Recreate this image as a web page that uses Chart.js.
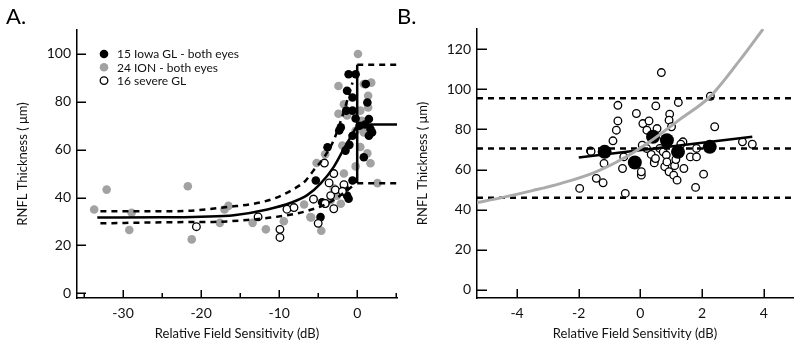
<!DOCTYPE html>
<html><head><meta charset="utf-8">
<script src="https://cdn.jsdelivr.net/npm/chart.js@4.4.1/dist/chart.umd.min.js"></script>
<style>
html,body{margin:0;padding:0;background:#fff;}
#wrap{position:relative;width:800px;height:348px;overflow:hidden;}
canvas{position:absolute;top:0;}
#ca{left:0}
#cb{left:400px}
.lab{position:absolute;font-family:Lato,"Open Sans",sans-serif;font-size:22px;line-height:22px;color:#000;top:5px;}
</style></head><body>
<div id="wrap">
<canvas id="ca" width="400" height="348"></canvas>
<canvas id="cb" width="400" height="348"></canvas>
<div class="lab" style="left:6px">A.</div>
<div class="lab" style="left:397px">B.</div>
</div>
<script>
// ---------- Panel A data ----------
const legendLabels = ['15 Iowa GL - both eyes', '24 ION - both eyes', '16 severe GL'];
const iowaGL = [[-4.7,31.8],[-4.5,38.0],[-4.1,37.4],[-5.3,47.1],[-3.8,61.0],[-2.1,69.3],[-1.5,59.6],[-0.6,65.8],[0.85,56.8],[-0.6,47.1],[-1.3,40.8],[-1.1,39.5],[-1.1,91.5],[-0.2,91.5],[-1.3,84.6],[-0.6,81.8],[-0.6,76.3],[1.5,72.8],[1.7,68.6],[1.9,67.2],[1.5,65.8],[1.1,87.4],[1.3,79.7],[-1.4,76.3],[-0.2,73.0],[-2.3,68.0],[-1.0,62.0],[-1.6,44.0],[0.3,70.0],[1.0,70.5]];
const ionEyes = [[-33.7,35.0],[-32.1,43.3],[-28.9,33.6],[-29.2,26.4],[-21.7,44.7],[-21.2,22.5],[-16.5,36.5],[-17.0,35.0],[-17.6,29.4],[-13.4,29.4],[-11.7,26.7],[-9.4,30.1],[-6.8,37.1],[-5.9,31.7],[-4.6,26.1],[-5.2,54.4],[-4.1,58.1],[-5.6,39.5],[-3.4,38.9],[-3.0,43.8],[-2.1,37.4],[-2.6,40.8],[-1.7,50.0],[-1.9,61.7],[-2.4,75.0],[-2.4,86.6],[-1.7,79.0],[-1.3,74.3],[0.1,100.0],[1.8,88.0],[1.4,82.5],[1.4,77.6],[0.4,76.3],[0.6,72.1],[0.85,67.2],[-0.2,67.9],[0.4,61.1],[1.3,58.5],[1.7,54.3],[-0.2,53.0],[2.6,46.0],[-6.0,31.8],[0.85,87.4],[1.2,69.0]];
const severeGL = [[-20.6,27.8],[-12.7,31.9],[-9.9,26.7],[-9.9,23.3],[-9.0,35.1],[-8.1,35.8],[-5.6,39.3],[-4.2,54.4],[-4.1,37.5],[-5.0,29.2],[-3.6,46.1],[-3.0,50.0],[-3.4,40.8],[-2.8,43.2],[-3.0,35.3],[-1.7,45.4],[-1.9,42.6]];
const fitA = [[-33.3,31.6],[-25,31.7],[-20,32.0],[-15.8,32.6],[-11.5,35.0],[-8.5,37.8],[-6.4,41.0],[-4.7,45.8],[-3.0,52.8],[-1.7,60.4],[-0.1,69.5]];
const upperA = [[-32.9,34.3],[-23,34.3],[-15.8,36.3],[-13.4,37.3],[-10.7,39.5],[-8.1,43.6],[-6.6,47.1],[-5.6,51.3],[-4.2,57.0],[-3.0,64.0],[-1.8,75.0],[-0.6,88.0]];
const lowerA = [[-32.9,29.2],[-23,29.7],[-18.4,29.8],[-14.1,30.6],[-11.1,31.6],[-8.1,33.1],[-6.4,34.4],[-4.5,36.5],[-3.0,39.0],[-1.5,42.5],[-0.3,45.5]];
const normMean = 70.5, normUpper = 95.5, normLower = 46;
const normXA = [0, 5.1];
const aXTicks = [-30, -20, -10, 0];
const aXMinor = [-35, -25, -15, -5, 5];
const aYTicks = [0, 20, 40, 60, 80, 100];

// ---------- Panel B data ----------
const normalEyes = [[-1.97,50.6],[-1.62,69.3],[-1.43,55.6],[-1.21,53.4],[-1.18,63.0],[-0.73,92.0],[-0.73,84.2],[-0.78,79.6],[-0.89,74.3],[-0.58,60.5],[-0.49,48.1],[-0.54,66.3],[-0.13,87.9],[0.06,72.1],[0.03,57.2],[0.03,58.9],[0.08,82.9],[0.28,84.2],[0.21,79.6],[0.50,91.7],[0.54,80.4],[0.68,108.3],[0.46,64.7],[0.45,63.3],[0.63,70.5],[0.74,68.8],[0.84,67.2],[0.79,61.4],[0.86,63.8],[0.93,58.9],[0.95,87.6],[0.93,84.6],[1.01,81.3],[1.11,61.9],[1.08,57.2],[1.19,54.7],[1.23,93.4],[1.38,73.8],[1.31,72.6],[1.41,60.5],[1.62,66.3],[1.82,66.3],[1.82,70.5],[1.79,51.1],[2.05,57.7],[2.27,96.5],[2.41,81.3],[3.31,73.8],[3.63,72.6],[0.35,67.5],[0.49,65.5],[1.15,65.0],[0.2,70.5],[-1.6,69.0]];
const groupMeans = [[-1.16,68.8],[-0.18,63.5],[0.41,76.3],[0.86,74.6],[1.22,68.8],[2.25,71.3]];
const regressB = [[-2.0,66.0],[3.63,76.3]];
const grayCurveB = [[-5.3,43.5],[-4.5,46.0],[-3.5,49.5],[-2.6,53.0],[-1.5,58.5],[-0.5,66.0],[0.3,73.8],[1.28,85.0],[2.25,96.2],[3.22,114.4],[3.98,130.0]];
const normXB = [-5.3, 4.95];
const bXTicks = [-4, -2, 0, 2, 4];
const bYTicks = [0, 20, 40, 60, 80, 100, 120];

// ---------- helpers ----------
const FONT = 'Lato, "Open Sans", sans-serif';
const GRAY = '#a2a2a2';
const toXY = arr => arr.map(p => ({x: p[0], y: p[1]}));
const hline = (xs, v) => xs.map(x => ({x, y: v}));

const inTicks = {
  id: 'inTicks',
  afterDraw(chart, args, o) {
    const {ctx, chartArea: a, scales: {x, y}} = chart;
    ctx.save();
    ctx.strokeStyle = '#000';
    ctx.lineWidth = 1.5;
    const vl = (px, len) => { ctx.beginPath(); ctx.moveTo(Math.round(px)+0.25, a.bottom); ctx.lineTo(Math.round(px)+0.25, a.bottom - len); ctx.stroke(); };
    const hl = (py, len) => { ctx.beginPath(); ctx.moveTo(a.left, Math.round(py)+0.25); ctx.lineTo(a.left + len, Math.round(py)+0.25); ctx.stroke(); };
    (o.xMajor || []).forEach(v => vl(x.getPixelForValue(v), o.xLen));
    (o.xMinor || []).forEach(v => vl(x.getPixelForValue(v), o.xMinLen));
    (o.yMajor || []).forEach(v => hl(y.getPixelForValue(v), o.yLen));
    ctx.restore();
  }
};

const ptLegend = {
  id: 'ptLegend',
  afterDraw(chart, args, o) {
    if (!o.show) return;
    const ctx = chart.ctx, a = chart.chartArea;
    ctx.save();
    ctx.font = '12px ' + FONT;
    ctx.textBaseline = 'middle';
    ctx.textAlign = 'left';
    o.items.forEach((it, i) => {
      const ds = chart.data.datasets[it];
      const cy = a.top + 24 + i * 13.3, cx = a.left + 27;
      ctx.beginPath();
      ctx.arc(cx, cy, ds.pointRadius, 0, Math.PI * 2);
      ctx.fillStyle = ds.backgroundColor;
      ctx.fill();
      if (ds.borderWidth) { ctx.lineWidth = ds.borderWidth; ctx.strokeStyle = ds.borderColor; ctx.stroke(); }
      ctx.fillStyle = '#111';
      ctx.fillText(legendLabels[i], cx + 13, cy + 0.5);
    });
    ctx.restore();
  }
};

function axisCfg(min, max, ticks, title, isX, fitSize, tpad) {
  return {
    type: 'linear', min, max,
    afterBuildTicks: s => { s.ticks = ticks.map(v => ({value: v})); },
    afterFit: s => { if (isX) s.height = fitSize; else s.width = fitSize; },
    grid: {display: false, drawTicks: false},
    border: {display: true, color: '#000', width: 1.5},
    ticks: {padding: isX ? 7 : 6, color: '#111', font: {family: FONT, size: 14}, callback: v => String(v), autoSkip: false, maxRotation: 0},
    title: {display: true, text: title, color: '#111', font: {family: FONT, size: 13}, padding: tpad}
  };
}

const lineDs = (data, opts) => Object.assign({data: toXY(data), showLine: true, pointRadius: 0, borderColor: '#000', borderWidth: 2.5, fill: false}, opts);

// ---------- Chart A ----------
new Chart(document.getElementById('ca'), {
  type: 'scatter',
  data: {datasets: [
    lineDs(fitA, {cubicInterpolationMode: 'monotone', tension: 0.4}),
    lineDs(upperA, {cubicInterpolationMode: 'monotone', tension: 0.4, borderDash: [6, 5]}),
    lineDs(lowerA, {cubicInterpolationMode: 'monotone', tension: 0.4, borderDash: [6, 5]}),
    {data: hline(normXA, normMean), showLine: true, pointRadius: 0, borderColor: '#000', borderWidth: 2.5},
    {data: hline(normXA, normUpper), showLine: true, pointRadius: 0, borderColor: '#000', borderWidth: 2.5, borderDash: [6, 5]},
    {data: hline(normXA, normLower), showLine: true, pointRadius: 0, borderColor: '#000', borderWidth: 2.5, borderDash: [6, 5]},
    {data: [{x: 0, y: normLower}, {x: 0, y: normUpper}], showLine: true, pointRadius: 0, borderColor: '#000', borderWidth: 2.5},
    {data: toXY(severeGL), pointRadius: 3.8, backgroundColor: '#fff', borderColor: '#000', borderWidth: 1.3},
    {data: toXY(iowaGL), pointRadius: 4.3, backgroundColor: '#000', borderColor: '#000', borderWidth: 0},
    {data: toXY(ionEyes), pointRadius: 4.3, backgroundColor: GRAY, borderColor: GRAY, borderWidth: 0}
  ]},
  options: {
    responsive: false, animation: false, devicePixelRatio: 1,
    layout: {padding: {left: 0, right: 3, top: 30, bottom: 0}, autoPadding: false},
    plugins: {
      legend: {display: false}, tooltip: {enabled: false},
      inTicks: {xMajor: aXTicks, xMinor: aXMinor, yMajor: aYTicks, xLen: 8, xMinLen: 5, yLen: 9},
      ptLegend: {show: true, items: [8, 9, 7]}
    },
    scales: {
      x: axisCfg(-35.9, 5.1, aXTicks, 'Relative Field Sensitivity (dB)', true, 50, {top: 0, bottom: 6}),
      y: axisCfg(-2, 110, aYTicks, 'RNFL Thickness ( \u03bcm)', false, 77, {top: 15, bottom: 0})
    }
  },
  plugins: [inTicks, ptLegend]
});

// ---------- Chart B ----------
new Chart(document.getElementById('cb'), {
  type: 'scatter',
  data: {datasets: [
    lineDs(grayCurveB, {cubicInterpolationMode: 'monotone', tension: 0.4, borderColor: '#ababab', borderWidth: 3}),
    lineDs(regressB, {borderWidth: 2.5}),
    {data: toXY(groupMeans), pointRadius: 7, backgroundColor: '#000', borderColor: '#000', borderWidth: 0},
    {data: hline(normXB, normUpper), showLine: true, pointRadius: 0, borderColor: '#000', borderWidth: 2.5, borderDash: [6, 5]},
    {data: hline(normXB, normMean), showLine: true, pointRadius: 0, borderColor: '#000', borderWidth: 2.5, borderDash: [6, 5]},
    {data: hline(normXB, normLower), showLine: true, pointRadius: 0, borderColor: '#000', borderWidth: 2.5, borderDash: [6, 5]},
    {data: toXY(normalEyes), pointRadius: 3.8, backgroundColor: '#fff', borderColor: '#000', borderWidth: 1.3}
  ]},
  options: {
    responsive: false, animation: false, devicePixelRatio: 1,
    layout: {padding: {left: 0, right: 7, top: 29, bottom: 0}, autoPadding: false},
    plugins: {
      legend: {display: false}, tooltip: {enabled: false},
      inTicks: {xMajor: bXTicks, xMinor: [], yMajor: bYTicks, xLen: 9, xMinLen: 5, yLen: 10},
      ptLegend: {show: false}
    },
    scales: {
      x: axisCfg(-5.3, 4.95, bXTicks, 'Relative Field Sensitivity (dB)', true, 50, {top: 0, bottom: 6}),
      y: axisCfg(-4, 130, bYTicks, 'RNFL Thickness ( \u03bcm)', false, 77, {top: 15, bottom: 0})
    }
  },
  plugins: [inTicks, ptLegend]
});
</script>
</body></html>
